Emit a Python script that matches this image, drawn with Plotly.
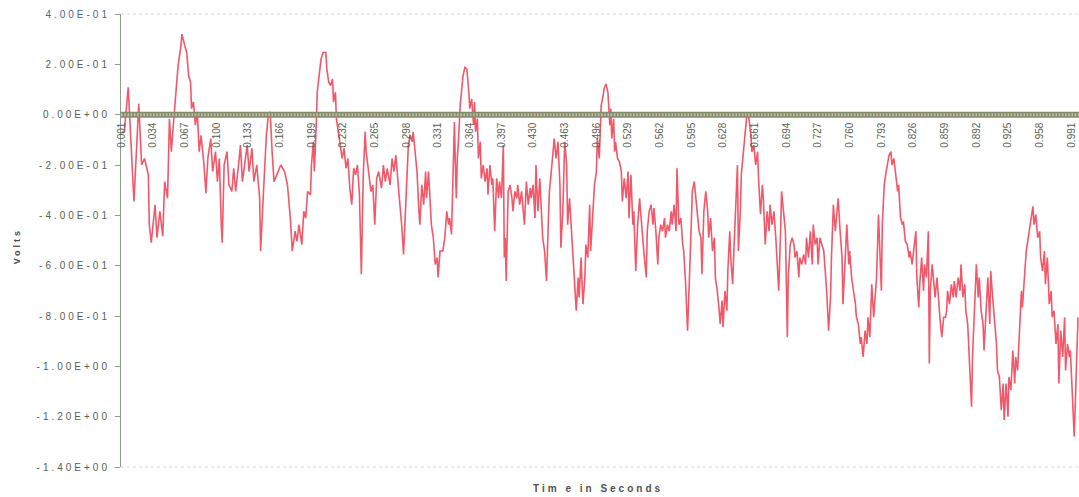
import plotly.graph_objects as go

# ---- data: time in milliseconds, voltage in volts ----
seg_a_t = [1, 4, 8, 11, 14, 19, 22, 25, 29, 30, 32, 36, 38, 41, 44, 46, 49, 51, 53, 55,
           57, 60, 63, 64, 67, 69, 71, 73, 74, 76, 78, 80, 82, 84, 87, 89, 91, 94, 96, 99,
           101, 103, 105, 106, 108, 111, 113, 116, 118, 120, 123, 125, 127, 130, 132, 134,
           137, 139, 142, 145, 146, 148, 150, 152, 154, 156, 158, 160]
seg_a_v = [-0.07, -0.068, 0.109, -0.147, -0.345, 0.043, -0.2, -0.174, -0.239, -0.437,
           -0.509, -0.358, -0.489, -0.384, -0.483, -0.266, -0.332, -0.016, -0.147, -0.042,
           0.05, 0.195, 0.274, 0.32, 0.274, 0.247, 0.155, 0.129, 0.024, 0.05,
           -0.042, 0.011, -0.147, -0.082, -0.2, -0.312, -0.174, -0.095, -0.226, -0.147,
           -0.266, -0.174, -0.437, -0.509, -0.2, -0.147, -0.279, -0.305, -0.213, -0.305,
           -0.2, -0.121, -0.266, -0.174, -0.121, -0.226, -0.134, -0.266, -0.2, -0.332,
           -0.542, -0.384, -0.2, -0.082, -0.003, 0.011, -0.147, -0.266]

seg_b_t = [167, 171, 174, 177, 179, 182, 184, 186, 189, 191, 193, 195, 198, 199, 201,
           202, 204, 205, 207, 209, 211, 214, 215, 217, 219, 221, 222, 224, 225, 227,
           229, 231, 233, 235, 237, 239, 241, 243, 245, 247, 249, 251, 253, 255, 256,
           259, 261, 263, 265, 267, 269, 272, 274, 276, 278, 281, 283, 285, 287, 290,
           292, 293, 295, 297, 299, 300, 302, 304, 305, 307, 309, 311, 312, 314, 316,
           318, 319, 321, 323, 324, 326, 328, 330, 331, 333]
seg_b_v = [-0.2, -0.226, -0.279, -0.411, -0.542, -0.463, -0.503, -0.437, -0.516, -0.384,
           -0.411, -0.305, -0.318, -0.2, -0.108, -0.226, -0.042, 0.089, 0.155, 0.221,
           0.247, 0.247, 0.182, 0.129, 0.116, 0.142, 0.05, 0.089, -0.016, -0.068,
           -0.121, -0.174, -0.134, -0.213, -0.174, -0.292, -0.358, -0.213, -0.239, -0.2,
           -0.318, -0.634, -0.239, -0.068, -0.147, -0.239, -0.305, -0.279, -0.437, -0.253,
           -0.226, -0.292, -0.2, -0.266, -0.213, -0.279, -0.174, -0.226, -0.161, -0.305,
           -0.384, -0.437, -0.555, -0.371, -0.239, -0.121, -0.082, -0.108, -0.068, -0.147,
           -0.226, -0.384, -0.437, -0.279, -0.358, -0.226, -0.332, -0.226, -0.384, -0.437,
           -0.489, -0.595, -0.568, -0.647, -0.542]

seg_c_t = [336, 338, 340, 342, 343, 345, 346, 348, 349, 350, 351, 352, 354, 356, 357,
           359, 361, 363, 364, 366, 368, 369, 370, 372, 373, 375, 376, 378, 380, 382,
           383, 385, 387, 388, 390, 392, 394, 395, 397, 399, 400, 401, 402, 404, 406,
           408, 409, 411, 413, 414, 416, 418, 420, 421, 423, 425, 427, 428, 430, 432,
           433, 435, 437, 439, 440, 442, 444, 446, 447, 449, 451, 452, 454, 456, 458,
           459, 461, 463, 465, 466, 468, 470, 471, 473, 475, 477, 478, 480, 482, 484,
           485, 487, 489, 490, 492, 494, 496, 497, 499]
seg_c_v = [-0.542, -0.489, -0.384, -0.437, -0.411, -0.476, -0.305, -0.029, -0.2, -0.332,
           -0.174, -0.121, 0.037, 0.103, 0.155, 0.188, 0.182, 0.089, 0.024, 0.063,
           -0.042, 0.05, -0.068, -0.016, -0.174, -0.108, -0.253, -0.2, -0.266, -0.213,
           -0.318, -0.2, -0.279, -0.253, -0.463, -0.253, -0.332, -0.266, -0.332, -0.121,
           -0.568, -0.489, -0.661, -0.305, -0.279, -0.332, -0.384, -0.305, -0.332, -0.279,
           -0.358, -0.305, -0.384, -0.437, -0.266, -0.358, -0.292, -0.332, -0.279, -0.411,
           -0.2, -0.384, -0.253, -0.437, -0.489, -0.542, -0.661, -0.411, -0.305, -0.226,
           -0.147, -0.095, -0.174, -0.108, -0.279, -0.529, -0.384, -0.108, -0.2, -0.437,
           -0.332, -0.463, -0.568, -0.661, -0.779, -0.647, -0.726, -0.568, -0.753, -0.647,
           -0.516, -0.568, -0.358, -0.542, -0.411, -0.279, -0.226, -0.095, -0.174]

seg_d_t = [501, 503, 504, 506, 508, 510, 511, 512, 514, 515, 516, 518, 520, 522, 523,
           525, 527, 529, 530, 532, 534, 535, 537, 539, 541, 542, 544, 546, 548, 549,
           551, 553, 555, 556, 558, 560, 561, 563, 565, 567, 568, 570, 572, 574, 575,
           577, 579, 580, 582, 584, 586, 587, 589, 591, 593, 594, 596, 598, 600, 601,
           603, 605, 606, 608, 610, 612, 613, 615, 617, 619, 620, 622, 624, 625, 627,
           628, 630, 632, 633, 635, 636, 638, 639, 641, 643, 644, 646, 647, 649, 651,
           652, 653, 655, 657, 658, 660, 662, 664, 665]
seg_d_v = [0.037, 0.076, 0.103, 0.122, 0.089, -0.042, 0.024, -0.095, -0.016, -0.147,
           -0.108, -0.174, -0.187, -0.226, -0.345, -0.253, -0.332, -0.226, -0.411, -0.239,
           -0.437, -0.384, -0.621, -0.437, -0.332, -0.384, -0.489, -0.568, -0.647, -0.463,
           -0.384, -0.358, -0.437, -0.371, -0.463, -0.595, -0.489, -0.437, -0.463, -0.411,
           -0.489, -0.437, -0.463, -0.384, -0.437, -0.358, -0.463, -0.213, -0.437, -0.411,
           -0.516, -0.542, -0.674, -0.858, -0.647, -0.542, -0.305, -0.266, -0.332, -0.384,
           -0.463, -0.489, -0.634, -0.384, -0.305, -0.384, -0.489, -0.411, -0.542, -0.489,
           -0.647, -0.7, -0.779, -0.832, -0.739, -0.845, -0.7, -0.779, -0.621, -0.463,
           -0.568, -0.674, -0.568, -0.411, -0.2, -0.542, -0.384, -0.239, -0.147, -0.082,
           -0.029, 0.008, -0.016, -0.082, -0.147, -0.121, -0.2, -0.147, -0.253]

seg_e_t = [667, 669, 670, 672, 674, 676, 677, 679, 681, 683, 684, 686, 688, 689, 691,
           693, 695, 696, 698, 700, 702, 703, 705, 707, 708, 710, 712, 714, 715, 717,
           719, 721, 722, 724, 726, 727, 729, 731, 733, 734, 736, 738, 740, 741, 743,
           745, 747, 748, 750, 752, 753, 755, 757, 759, 760, 762, 764, 766, 767, 769,
           771, 772, 774, 776, 778, 779, 781, 783, 785, 786, 788, 790, 792, 793, 794,
           796, 798, 800, 801, 803, 804, 806, 808, 810, 811, 813, 815, 816, 818, 820,
           822, 823, 825, 827, 829, 830, 832]
seg_e_v = [-0.395, -0.279, -0.332, -0.516, -0.384, -0.463, -0.358, -0.437, -0.384, -0.489,
           -0.568, -0.7, -0.463, -0.305, -0.384, -0.463, -0.884, -0.647, -0.516, -0.489,
           -0.516, -0.568, -0.542, -0.647, -0.568, -0.595, -0.555, -0.595, -0.489, -0.568,
           -0.463, -0.595, -0.437, -0.516, -0.489, -0.595, -0.489, -0.516, -0.542, -0.595,
           -0.7, -0.858, -0.726, -0.568, -0.358, -0.463, -0.384, -0.332, -0.463, -0.568,
           -0.753, -0.568, -0.437, -0.595, -0.542, -0.647, -0.7, -0.753, -0.805, -0.832,
           -0.911, -0.884, -0.963, -0.858, -0.911, -0.805, -0.884, -0.674, -0.805, -0.753,
           -0.647, -0.397, -0.568, -0.7, -0.437, -0.279, -0.226, -0.174, -0.161, -0.147,
           -0.2, -0.174, -0.253, -0.305, -0.279, -0.411, -0.437, -0.424, -0.503, -0.516,
           -0.568, -0.542, -0.595, -0.516, -0.463, -0.647, -0.766]

seg_f_t = [833, 835, 837, 838, 840, 842, 843, 844, 846, 848, 849, 851, 853, 854, 856,
           858, 860, 861, 862, 864, 866, 868, 869, 871, 873, 875, 876, 878, 880, 881,
           883, 885, 887, 888, 890, 892, 894, 895, 897, 899, 900, 902, 904, 906, 907,
           909, 911, 913, 914, 916, 918, 920, 921, 923, 925, 926, 928, 930, 932, 933,
           935, 937, 939, 940, 942, 944, 945, 947, 949, 951, 952, 954, 956, 958, 959,
           961, 963, 964, 966, 968, 970, 971, 973, 975, 977, 978, 980, 982, 984, 985,
           987, 989, 990, 992, 994, 996, 997, 998]
seg_f_v = [-0.674, -0.568, -0.7, -0.595, -0.647, -0.463, -0.989, -0.7, -0.595, -0.674,
           -0.726, -0.647, -0.779, -0.805, -0.884, -0.805, -0.805, -0.779, -0.7, -0.753,
           -0.674, -0.726, -0.661, -0.726, -0.647, -0.7, -0.595, -0.726, -0.674, -0.779,
           -0.832, -0.989, -1.161, -0.963, -0.805, -0.595, -0.726, -0.647, -0.779, -0.832,
           -0.937, -0.779, -0.647, -0.832, -0.621, -0.726, -0.832, -0.911, -1.016, -1.042,
           -1.174, -1.068, -1.213, -1.068, -1.2, -1.042, -1.095, -0.937, -1.068, -0.963,
           -1.016, -0.832, -0.7, -0.766, -0.647, -0.542, -0.516, -0.463, -0.411, -0.364,
           -0.437, -0.397, -0.489, -0.463, -0.568, -0.621, -0.542, -0.674, -0.568, -0.753,
           -0.7, -0.805, -0.779, -0.911, -0.832, -1.068, -0.858, -0.963, -0.805, -1.016,
           -0.911, -0.963, -0.937, -1.095, -1.279, -1.042, -0.911, -0.805]

time_ms = seg_a_t + seg_b_t + seg_c_t + seg_d_t + seg_e_t + seg_f_t
volts = seg_a_v + seg_b_v + seg_c_v + seg_d_v + seg_e_v + seg_f_v
assert len(time_ms) == len(volts), (len(time_ms), len(volts))
time_s = [t / 1000.0 for t in time_ms]

x_tick_labels = ["0.001", "0.034", "0.067", "0.100", "0.133", "0.166", "0.199", "0.232",
                 "0.265", "0.298", "0.331", "0.364", "0.397", "0.430", "0.463", "0.496",
                 "0.529", "0.562", "0.595", "0.628", "0.661", "0.694", "0.727", "0.760",
                 "0.793", "0.826", "0.859", "0.892", "0.925", "0.958", "0.991"]
y_tick_values = [0.4, 0.2, 0.0, -0.2, -0.4, -0.6, -0.8, -1.0, -1.2, -1.4]
y_tick_labels = ["<span style='color:#4d6296'>4.00E-01</span>", "2.00E-01", "0.00E+00",
                 "-2.00E-01", "-4.00E-01", "-6.00E-01", "-8.00E-01", "-1.00E+00",
                 "-1.20E+00", "-1.40E+00"]

Y_MIN, Y_MAX = -1.4, 0.4

fig = go.Figure(go.Scatter(x=time_s, y=volts, mode="lines",
                           line=dict(color="#f1586a", width=1.6),
                           hoverinfo="skip"))

fig.update_layout(
    width=1079, height=497,
    margin=dict(l=121, r=0, t=14, b=30),
    paper_bgcolor="white", plot_bgcolor="white",
    showlegend=False,
    font=dict(family="Liberation Sans, Arial, sans-serif", color="#555a50"),
)

fig.update_xaxes(
    range=[0.0005, 0.999],
    anchor="free", position=(0 - Y_MIN) / (Y_MAX - Y_MIN),
    showgrid=False, zeroline=False, showline=False, ticks="",
    tickvals=[float(s) for s in x_tick_labels], ticktext=x_tick_labels,
    tickangle=-90, tickfont=dict(size=10, color="#5a5f55"),
    ticklabelstandoff=5,
)
fig.update_yaxes(
    range=[Y_MIN, Y_MAX],
    showgrid=False, zeroline=False,
    showline=True, linecolor="#8e9c8e", linewidth=1,
    ticks="outside", ticklen=5, tickcolor="#8e9c8e",
    tickvals=y_tick_values, ticktext=y_tick_labels,
    tickfont=dict(size=10, color="#596055"),
    ticklabelstandoff=3,
)

# faint top / bottom frame lines
for yy in (0, 1):
    fig.add_shape(type="line", xref="paper", yref="paper", x0=0, x1=1, y0=yy, y1=yy,
                  line=dict(color="#d6d6d6", width=1, dash="dot"), layer="below")

# textured zero-axis band (category tick marks)
fig.add_shape(type="line", xref="paper", yref="y", x0=0, x1=1, y0=0, y1=0,
              line=dict(color="#858a6e", width=6), layer="above")
fig.add_shape(type="line", xref="paper", yref="y", x0=0, x1=1, y0=0, y1=0,
              line=dict(color="#bcc29a", width=3, dash="1.6px,1.6px"), layer="above")

fig.add_annotation(text="<b>Volts</b>", xref="paper", yref="paper", x=0, y=0.486,
                   xanchor="center", yanchor="middle", xshift=-104, textangle=-90,
                   showarrow=False, font=dict(size=9, color="#4a4a4a"))
fig.add_annotation(text="<b>Tim e in Seconds</b>", xref="paper", yref="paper",
                   x=0.498, y=0, xanchor="center", yanchor="middle", yshift=-21,
                   showarrow=False, font=dict(size=10, color="#505050"))

css_js = (
    "var s=document.createElement('style');"
    "s.textContent='.ytick text{letter-spacing:3px}.annotation-text{letter-spacing:3px}';"
    "document.head.appendChild(s);"
)
fig.write_html("out.html", config={"displayModeBar": False}, post_script=css_js)
